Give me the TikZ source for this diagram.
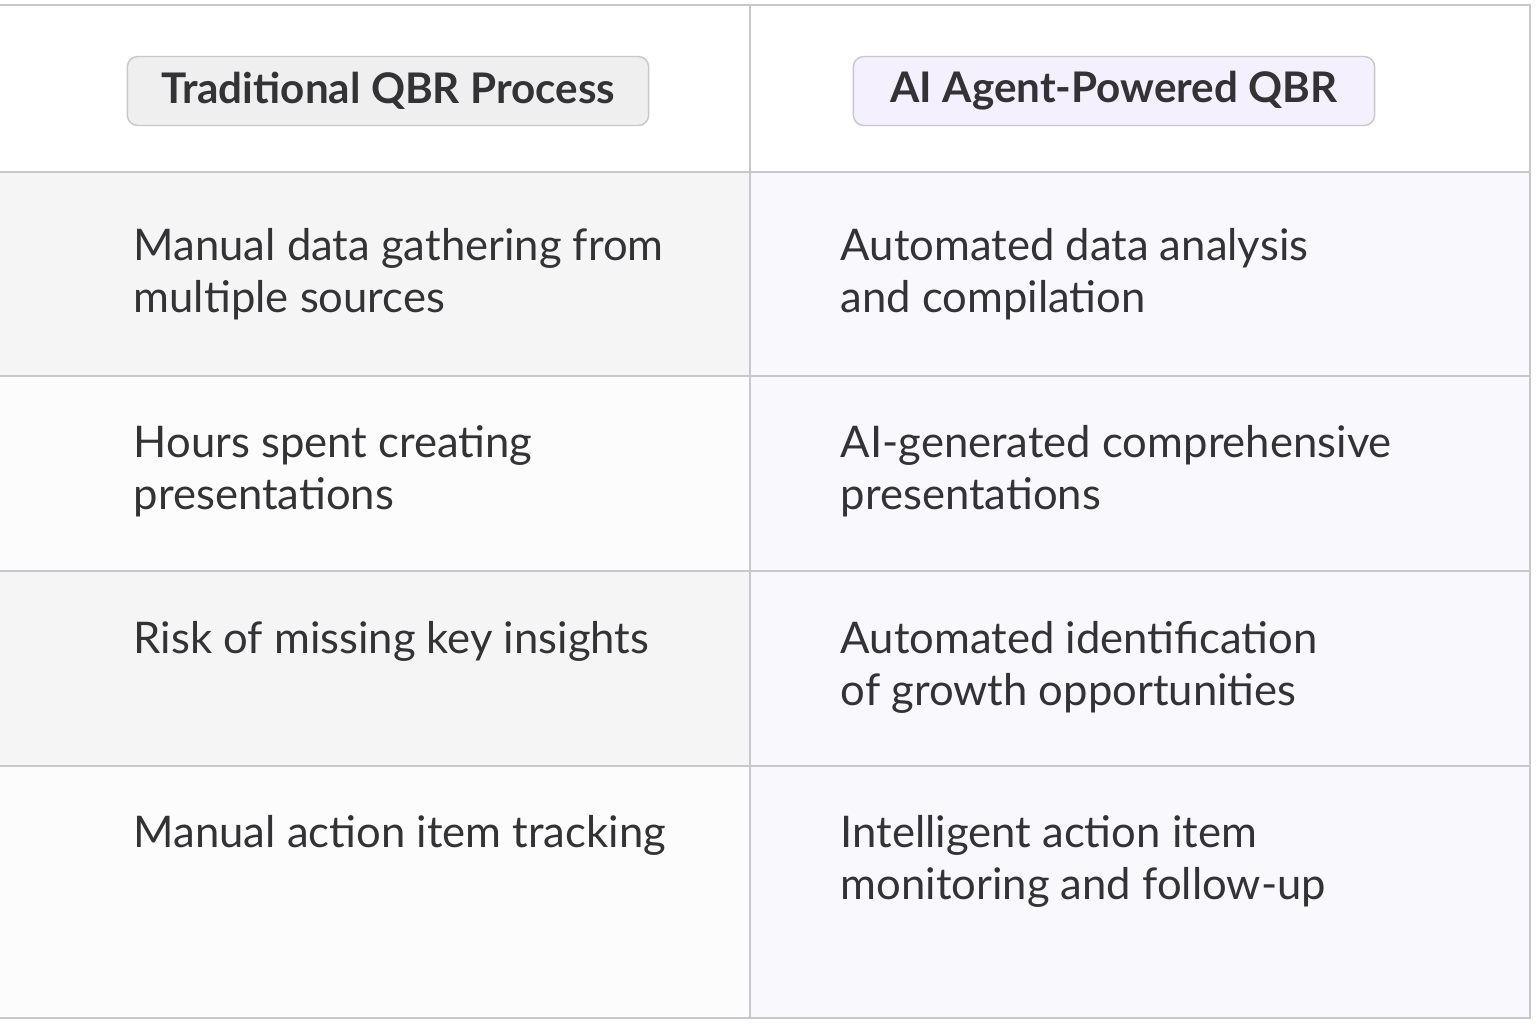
\documentclass[tikz,border=0pt]{standalone}
\usepackage{fontspec}
\setmainfont{Lato}
\definecolor{gridline}{HTML}{C8C8CC}
\definecolor{rowgray}{HTML}{F5F5F5}
\definecolor{rowwhite}{HTML}{FCFCFC}
\definecolor{rowlav}{HTML}{F9F8FD}
\definecolor{headgray}{HTML}{EFEFEF}
\definecolor{headlav}{HTML}{F5F0FD}
\definecolor{textcol}{HTML}{333336}
\begin{document}
\begin{tikzpicture}[x=0.01cm,y=-0.01cm,
    cell/.style={anchor=north west,inner sep=0pt,align=left,text=textcol,
      font=\fontsize{12.4}{14.8}\selectfont},
    header/.style={draw=gridline,rounded corners=3pt,inner sep=0pt,
      minimum width=5.21cm,minimum height=0.69cm,text=textcol,
      font=\fontsize{12}{14}\selectfont\bfseries}]
    \useasboundingbox (0,0) rectangle (1536,1024);
    \fill[white] (0,0) rectangle (1536,1024);

    % row backgrounds
    \fill[rowgray] (0,172) rectangle (750,376);
    \fill[rowwhite] (0,376) rectangle (750,571);
    \fill[rowgray] (0,571) rectangle (750,766);
    \fill[rowwhite] (0,766) rectangle (750,1018);
    \fill[rowlav] (750,172) rectangle (1530,1018);

    % grid
    \draw[gridline] (0,5) -- (1530,5) -- (1530,1018) -- (0,1018);
    \draw[gridline] (750,5) -- (750,1018);
    \draw[gridline] (0,172) -- (1530,172);
    \draw[gridline] (0,376) -- (1530,376);
    \draw[gridline] (0,571) -- (1530,571);
    \draw[gridline] (0,766) -- (1530,766);

    % headers
    \node[header,fill=headgray] (headL) at (388,91) {Traditional QBR Process};
    \node[header,fill=headlav] (headR) at (1114,91) {AI Agent-Powered QBR};

    % cells
    \node[cell] (l1) at (133,228) {Manual data gathering from\\multiple sources};
    \node[cell] (r1) at (840,228) {Automated data analysis\\and compilation};
    \node[cell] (l2) at (133,425) {Hours spent creating\\presentations};
    \node[cell] (r2) at (840,425) {AI-generated comprehensive\\presentations};
    \node[cell] (l3) at (133,621) {Risk of missing key insights};
    \node[cell] (r3) at (840,621) {Automated identification\\of growth opportunities};
    \node[cell] (l4) at (133,815) {Manual action item tracking};
    \node[cell] (r4) at (840,815) {Intelligent action item\\monitoring and follow-up};
\end{tikzpicture}
\end{document}
